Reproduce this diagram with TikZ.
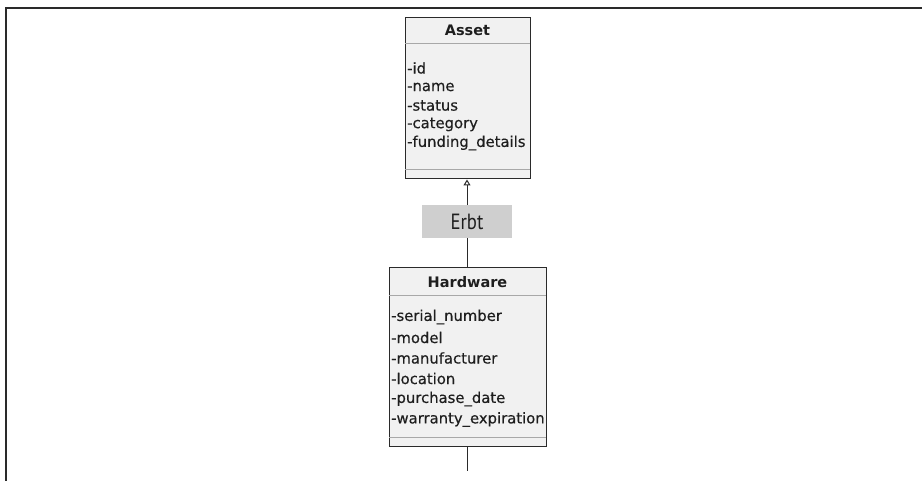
\documentclass[tikz,border=0pt]{standalone}
\usepackage{fontspec}
\setmainfont[FakeBold=0.4]{DejaVu Sans}
\newfontfamily\titlefont[BoldFont={DejaVu Sans Bold}]{DejaVu Sans}
\newfontfamily\lblfont[FakeStretch=0.85]{PT Sans}
\usetikzlibrary{arrows.meta,positioning}
\definecolor{boxfill}{HTML}{F1F1F1}
\definecolor{boxline}{HTML}{2A2A2A}
\definecolor{sepline}{HTML}{A8A8A8}
\definecolor{lblfill}{HTML}{CFCFCF}
\definecolor{txt}{HTML}{1E1E1E}
\tikzset{
  classbox/.style={draw=boxline, fill=boxfill, line width=1pt, inner sep=0pt},
  sep/.style={draw=sepline, line width=1pt},
  attr/.style={anchor=west, inner sep=0pt, font=\fontsize{14.8}{15}\selectfont, text=txt},
  title/.style={inner sep=0pt, font=\titlefont\fontsize{14.5}{15}\selectfont\bfseries, text=txt},
  lbl/.style={fill=lblfill, minimum width=90pt, minimum height=33pt, inner sep=0pt, font=\lblfont\fontsize{22}{23}\selectfont, text=txt},
  conn/.style={draw=boxline, line width=1pt},
  frame/.style={draw=boxline, line width=1.2pt}
}
\begin{document}
\begin{tikzpicture}[x=1pt,y=-1pt]
\useasboundingbox (0,0) rectangle (922,481);
\draw[frame] (6,481) -- (6,8) -- (922,8);
% Asset
\node[classbox, minimum width=125pt, minimum height=161pt, anchor=north west] (asset) at (405,17) {};
\node[title] (assetT) at (467.5,30) {Asset};
\draw[sep] (405,44) -- (530,44);
\draw[sep] (405,170) -- (530,170);
\node[attr] (a1) at (407,68) {-id};
\node[attr] (a2) at (407,87) {-name};
\node[attr] (a3) at (407,105.5) {-status};
\node[attr] (a4) at (407,124.5) {-category};
\node[attr] (a5) at (407,143) {-funding\_details};
% label
\node[lbl] (erbt) at (467,221.5) {Erbt};
% Hardware
\node[classbox, minimum width=157pt, minimum height=179pt, anchor=north west] (hw) at (389,267) {};
\node[title] (hwT) at (467.5,282) {Hardware};
\draw[sep] (389,296) -- (546,296);
\draw[sep] (389,437) -- (546,437);
\node[attr] (h1) at (391,317) {-serial\_number};
\node[attr] (h2) at (391,337.5) {-model};
\node[attr] (h3) at (391,358) {-manufacturer};
\node[attr] (h4) at (391,378.5) {-location};
\node[attr] (h5) at (391,399) {-purchase\_date};
\node[attr] (h6) at (391,419.5) {-warranty\_expiration};
% connectors
\coordinate (below) at (467,471);
\draw[conn] (erbt.north) -- ([yshift=-6.5pt]asset.south -| erbt.north);
\draw[conn, -{Triangle[open,length=6pt,width=7pt]}] ([yshift=-8pt]asset.south -| erbt.north) -- ([yshift=-0.5pt]asset.south -| erbt.north);
\draw[conn] (erbt.south) -- (hw.north -| erbt.south);
\draw[conn] (hw.south -| erbt.south) -- (below);
\end{tikzpicture}
\end{document}
